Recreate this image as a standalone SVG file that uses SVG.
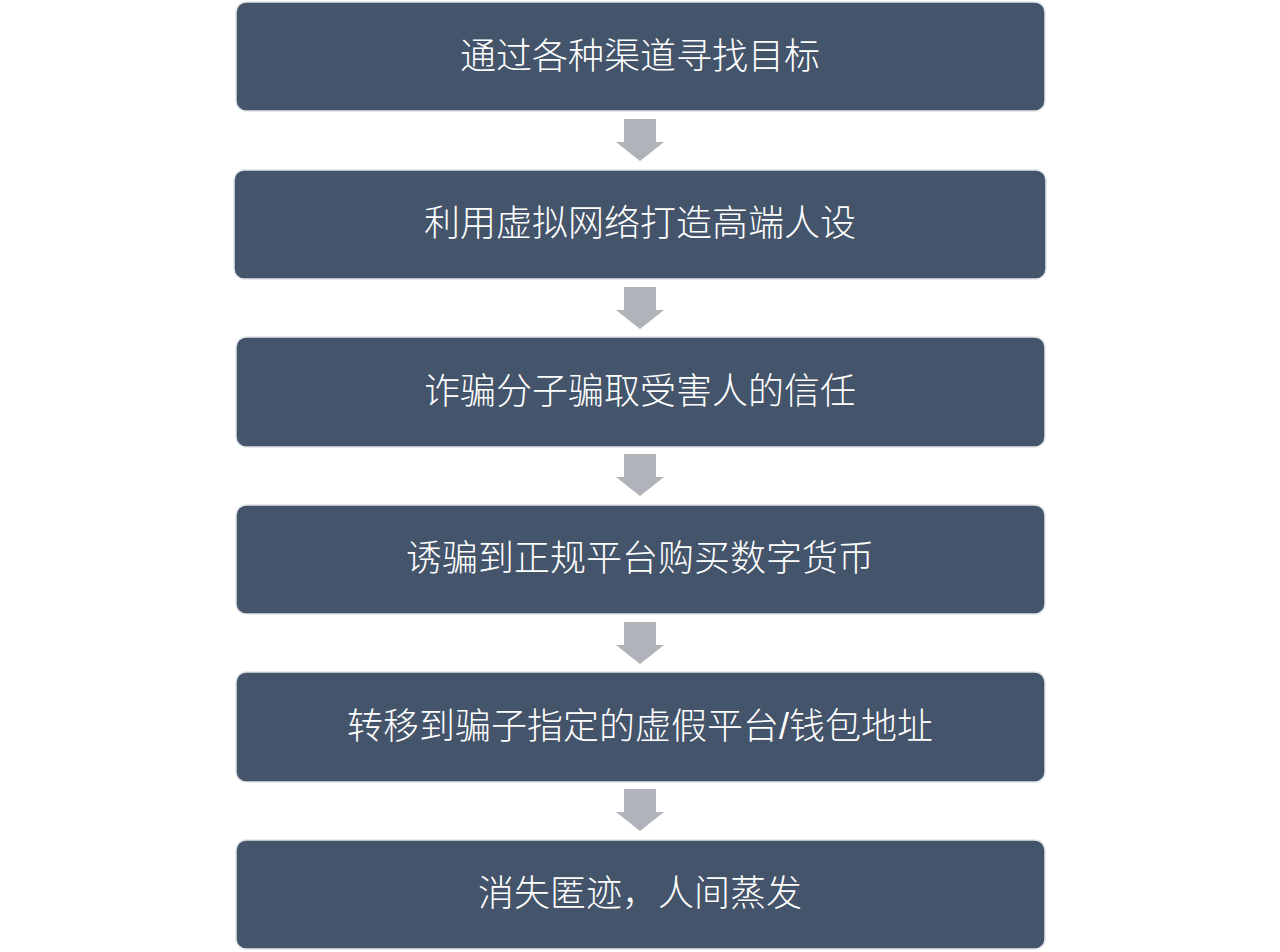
<svg xmlns="http://www.w3.org/2000/svg" width="1280" height="952" viewBox="0 0 1280 952">
<style>
.box{fill:#44546a;stroke:#e2e5e8;stroke-width:1.5}
.lbl{fill:#ffffff;font-family:"Liberation Sans","Noto Sans CJK SC",sans-serif;font-size:36px;font-weight:300;text-anchor:middle;dominant-baseline:central}
.arr{fill:#b0b3b9}
</style>
<defs>
<path id="a" class="arr" d="M-16,0 H16 V23 H24 L0,42 L-24,23 H-16 Z"/>
</defs>
<rect width="1280" height="952" fill="#ffffff"/>
<g id="connectors">
<use href="#a" x="640" y="119"/>
<use href="#a" x="640" y="287"/>
<use href="#a" x="640" y="454"/>
<use href="#a" x="640" y="622"/>
<use href="#a" x="640" y="789"/>
</g>
<g id="n1"><rect class="box" x="236" y="2" width="809" height="109" rx="10"/><text class="lbl" x="640" y="56">通过各种渠道寻找目标</text></g>
<g id="n2"><rect class="box" x="234" y="170" width="812" height="109" rx="10"/><text class="lbl" x="640" y="223">利用虚拟网络打造高端人设</text></g>
<g id="n3"><rect class="box" x="236" y="337" width="809" height="110" rx="10"/><text class="lbl" x="640" y="391">诈骗分子骗取受害人的信任</text></g>
<g id="n4"><rect class="box" x="236" y="505" width="809" height="109" rx="10"/><text class="lbl" x="640" y="558">诱骗到正规平台购买数字货币</text></g>
<g id="n5"><rect class="box" x="236" y="672" width="809" height="110" rx="10"/><text class="lbl" x="640" y="726">转移到骗子指定的虚假平台/钱包地址</text></g>
<g id="n6"><rect class="box" x="236" y="840" width="809" height="109" rx="10"/><text class="lbl" x="640" y="893">消失匿迹，人间蒸发</text></g>
</svg>
